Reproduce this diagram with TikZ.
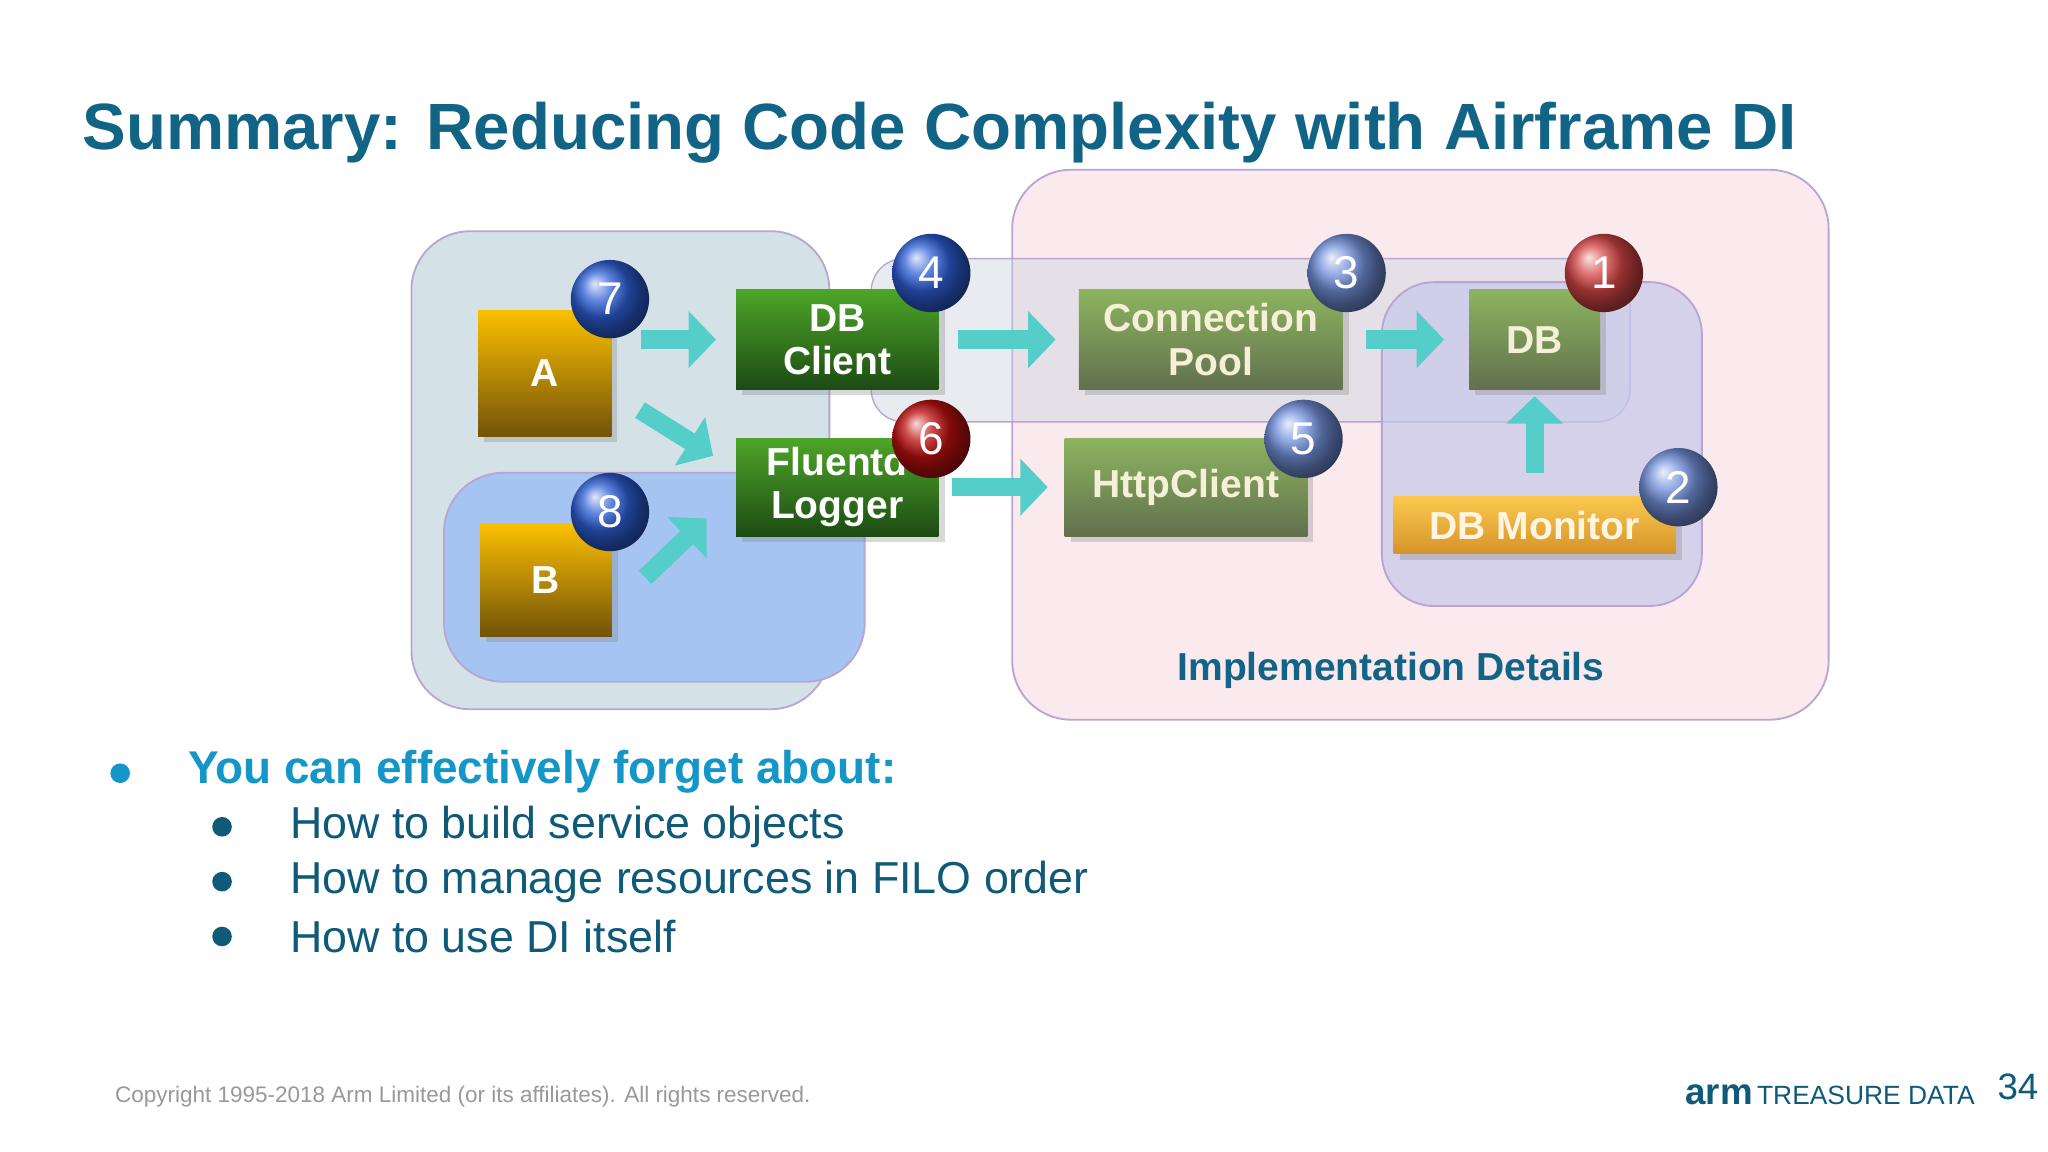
\documentclass[tikz,border=0pt]{standalone}
\usepackage{fontspec}
\setmainfont{Liberation Sans}
\usetikzlibrary{arrows.meta,shadows}
\definecolor{titleblue}{RGB}{18,100,135}
\definecolor{bulletblue}{RGB}{20,150,200}
\definecolor{textblue}{RGB}{15,90,120}
\definecolor{flow}{RGB}{85,205,200}
\definecolor{frameline}{RGB}{185,165,210}
\tikzset{
  box/.style={draw=none, text=white, font=\fontsize{17}{19}\selectfont\bfseries, align=center, inner sep=0pt, drop shadow={opacity=0.3}},
  gold/.style={box, top color={rgb,255:red,250;green,192;blue,0}, bottom color={rgb,255:red,115;green,82;blue,10}},
  green/.style={box, top color={rgb,255:red,78;green,165;blue,40}, bottom color={rgb,255:red,28;green,75;blue,20}},
  olive/.style={box, text={rgb,255:red,245;green,240;blue,215}, top color={rgb,255:red,140;green,180;blue,95}, bottom color={rgb,255:red,98;green,112;blue,78}},
  amber/.style={box, text={rgb,255:red,255;green,245;blue,225}, top color={rgb,255:red,252;green,200;blue,80}, bottom color={rgb,255:red,212;green,148;blue,40}},
  badge/.style={circle, minimum size=1.2cm, inner sep=0pt, text=white, font=\fontsize{20}{22}\selectfont},
  flowarrow/.style={draw=flow, line width=0.28cm, -{Triangle[length=0.42cm,width=0.85cm]}},
  group/.style={draw=frameline, line width=0.8pt, rounded corners=0.9cm},
  dot/.style={circle, inner sep=0pt, minimum size=0.3cm}
}
\begin{document}
\begin{tikzpicture}[x=0.02cm,y=-0.02cm]
  \fill[white] (0,0) rectangle (1568,882);

  % title
  \node[anchor=west, text=titleblue, font=\fontsize{28.5}{32}\selectfont\bfseries] (title) at (57,102) {Summary: Reducing Code Complexity with Airframe DI};

  % groups
  \fill[group, fill={rgb,255:red,212;green,226;blue,232}] (315,177) rectangle (635,543);
  \fill[group, fill={rgb,255:red,165;green,196;blue,242}] (340,362) rectangle (662,522);
  \fill[group, fill={rgb,255:red,248;green,225;blue,230}, fill opacity=0.7] (775,130) rectangle (1400,551);
  \fill[draw=frameline, line width=0.6pt, rounded corners=0.5cm, fill={rgb,255:red,205;green,215;blue,225}, fill opacity=0.45] (667,198) rectangle (1248,323);
  \fill[group, rounded corners=0.8cm, fill={rgb,255:red,200;green,200;blue,235}, fill opacity=0.7] (1058,216) rectangle (1303,464);

  % components
  \node[gold, minimum width=2.04cm, minimum height=1.92cm] (a) at (417,286) {A};
  \node[gold, minimum width=2.02cm, minimum height=1.72cm] (b) at (418,444) {B};
  \node[green, minimum width=3.1cm, minimum height=1.52cm] (dbclient) at (641,260) {DB\\Client};
  \node[green, minimum width=3.1cm, minimum height=1.5cm] (logger) at (641,373) {Fluentd\\Logger};
  \node[olive, minimum width=4.04cm, minimum height=1.52cm] (pool) at (927,260) {Connection\\Pool};
  \node[olive, minimum width=3.72cm, minimum height=1.5cm] (http) at (908,373) {HttpClient};
  \node[olive, minimum width=2.0cm, minimum height=1.52cm] (db) at (1175,260) {DB};
  \node[amber, minimum width=4.32cm, minimum height=0.88cm] (monitor) at (1175,402) {DB Monitor};

  % flows
  \coordinate (a out) at (490,314);
  \coordinate (logger in a) at (546,349);
  \coordinate (b out) at (494,442);
  \coordinate (logger in b) at (541,397);
  \draw[flowarrow] ([xshift=0.45cm]a.east |- dbclient.west) -- ([xshift=-0.3cm]dbclient.west);
  \draw[flowarrow] (a out) -- (logger in a);
  \draw[flowarrow] (b out) -- (logger in b);
  \draw[flowarrow] ([xshift=0.3cm]dbclient.east) -- ([xshift=-0.35cm]pool.west);
  \draw[flowarrow] ([xshift=0.2cm]logger.east) -- ([xshift=-0.25cm]http.west);
  \draw[flowarrow] ([xshift=0.35cm]pool.east) -- ([xshift=-0.38cm]db.west);
  \draw[flowarrow] ([yshift=0.35cm]monitor.north) -- ([yshift=-0.1cm]db.south);

  % order badges
  \node[badge, ball color={rgb,255:red,45;green,95;blue,215}] (n7) at (467,229) {7};
  \node[badge, ball color={rgb,255:red,45;green,95;blue,215}] (n4) at (713,209) {4};
  \node[badge, ball color={rgb,255:red,190;green,15;blue,15}] (n6) at (713,336) {6};
  \node[badge, ball color={rgb,255:red,45;green,95;blue,215}] (n8) at (467,392) {8};
  \node[badge, ball color={rgb,255:red,115;green,145;blue,220}] (n3) at (1031,209) {3};
  \node[badge, ball color={rgb,255:red,115;green,145;blue,220}] (n5) at (998,336) {5};
  \node[badge, ball color={rgb,255:red,215;green,70;blue,70}] (n1) at (1228,209) {1};
  \node[badge, ball color={rgb,255:red,115;green,145;blue,220}] (n2) at (1285,373) {2};

  \node[text=titleblue, font=\fontsize{17}{19}\selectfont\bfseries] (impl) at (1065,513) {Implementation Details};

  % bullets
  \node[dot, fill=bulletblue] (dot0) at (92,592) {};
  \node[anchor=west, text=bulletblue, font=\fontsize{20}{24}\selectfont\bfseries] (b0) at (138,591) {You can effectively forget about:};
  \foreach \y/\t [count=\i] in {633/How to build service objects, 675/How to manage resources in FILO order, 717/How to use DI itself}{
    \node[dot, fill=textblue] (dot\i) at (170,\y) {};
    \node[anchor=west, text=textblue, font=\fontsize{19.5}{24}\selectfont] (item\i) at (216,\y) {\t};
  }

  % footer
  \node[anchor=west, text=black!40, font=\fontsize{9.8}{11}\selectfont] (copy) at (82,840) {Copyright 1995-2018 Arm Limited (or its affiliates). All rights reserved.};
  \node[anchor=east, text=textblue, font=\fontsize{11.5}{14}\selectfont] (logo) at (1518,838) {\textbf{\fontsize{16}{18}\selectfont arm}\,TREASURE DATA};
  \node[text=textblue, font=\fontsize{16}{18}\selectfont] (page) at (1545,832) {34};
\end{tikzpicture}
\end{document}
